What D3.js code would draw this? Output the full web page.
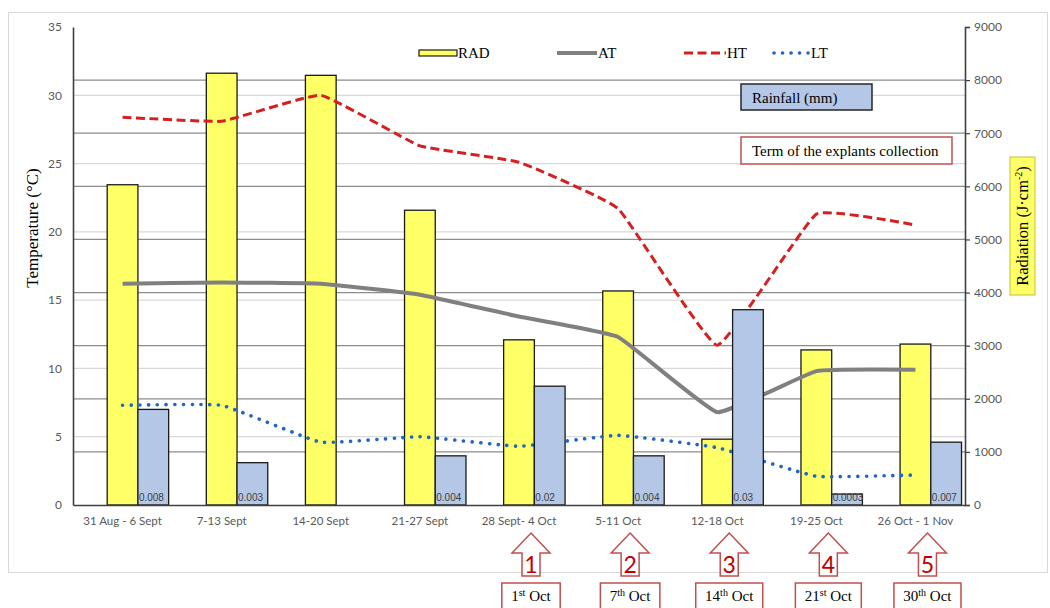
<!DOCTYPE html>
<html>
<head>
<meta charset="utf-8">
<script src="https://cdn.jsdelivr.net/npm/d3@7"></script>
<style>
  html, body { margin: 0; padding: 0; background: #ffffff; }
  svg { display: block; }
</style>
</head>
<body>
<svg id="chart" width="1050" height="608"></svg>
<script>
// Weekly weather during the explant collection period
const categories = ["31 Aug - 6 Sept", "7-13 Sept", "14-20 Sept", "21-27 Sept", "28 Sept- 4 Oct",
                    "5-11 Oct", "12-18 Oct", "19-25 Oct", "26 Oct - 1 Nov"];
const radiation = [6030, 8130, 8090, 5550, 3110, 4030, 1240, 2920, 3030];      // J·cm-2
const rainfall = [7.0, 3.1, 0, 3.6, 8.7, 3.6, 14.3, 0.8, 4.6];                // mm
const rainfallLabels = ["0.008", "0.003", "", "0.004", "0.02", "0.004", "0.03", "0.0003", "0.007"];
const meanTemp = [16.2, 16.3, 16.2, 15.4, 13.8, 12.3, 6.8, 9.8, 9.9];         // AT
const highTemp = [28.4, 28.1, 30.0, 26.3, 25.1, 21.7, 11.7, 21.3, 20.5];      // HT
const lowTemp = [7.3, 7.3, 4.6, 5.0, 4.3, 5.1, 4.2, 2.1, 2.2];                // LT

const tempTicks = [0, 5, 10, 15, 20, 25, 30, 35];
const radTicks = [0, 1000, 2000, 3000, 4000, 5000, 6000, 7000, 8000, 9000];

// Explant collection terms
const collectionWeeks = ["28 Sept- 4 Oct", "5-11 Oct", "12-18 Oct", "19-25 Oct", "26 Oct - 1 Nov"];
const collectionNumbers = ["1", "2", "3", "4", "5"];
const collectionDays = ["1", "7", "14", "21", "30"];
const collectionSuffixes = ["st", "th", "th", "st", "th"];

const SERIF = "Liberation Serif, Times New Roman, serif";
const SANS = "Lato, Liberation Sans, sans-serif";

const svg = d3.select("#chart");
const plot = { left: 73, right: 965, top: 27, bottom: 505 };

const x = d3.scaleBand().domain(categories).range([plot.left, plot.right]).paddingInner(0).paddingOuter(0);
const yT = d3.scaleLinear().domain([0, 35]).range([plot.bottom, plot.top]);
const yR = d3.scaleLinear().domain([0, 9000]).range([plot.bottom, plot.top]);
const cx = d => x(d) + x.bandwidth() / 2;
const barW = x.bandwidth() * 0.31;

// outer frame
svg.append("rect").attr("x", 8.5).attr("y", 12.5).attr("width", 1039).attr("height", 560)
  .attr("fill", "none").attr("stroke", "#d9d9d9").attr("stroke-width", 1);

// gridlines: temperature (light) and radiation (dark)
svg.append("g").selectAll("line").data(tempTicks.filter(t => t > 0 && t < 35)).join("line")
  .attr("x1", plot.left).attr("x2", plot.right)
  .attr("y1", d => yT(d)).attr("y2", d => yT(d))
  .attr("stroke", "#d9d9d9").attr("stroke-width", 1.3);
svg.append("g").selectAll("line").data(radTicks.filter(t => t > 0 && t < 9000)).join("line")
  .attr("x1", plot.left).attr("x2", plot.right)
  .attr("y1", d => yR(d)).attr("y2", d => yR(d))
  .attr("stroke", "#8c8c8c").attr("stroke-width", 1.3);

// radiation bars
svg.append("g").selectAll("rect").data(categories).join("rect")
  .attr("x", d => cx(d) - barW / 2)
  .attr("y", (d, i) => yR(radiation[i]))
  .attr("width", barW)
  .attr("height", (d, i) => yR(0) - yR(radiation[i]))
  .attr("fill", "#ffff66").attr("stroke", "#1a1a1a").attr("stroke-width", 1.3);

// temperature lines
const line = d3.line()
  .x((d, i) => cx(categories[i]))
  .y(d => yT(d))
  .curve(d3.curveCardinal.tension(0.7));

svg.append("path").datum(meanTemp).attr("d", line)
  .attr("fill", "none").attr("stroke", "#808080").attr("stroke-width", 4);
svg.append("path").datum(highTemp).attr("d", line)
  .attr("fill", "none").attr("stroke", "#d42020").attr("stroke-width", 3)
  .attr("stroke-dasharray", "9,4.5");
svg.append("path").datum(lowTemp).attr("d", line)
  .attr("fill", "none").attr("stroke", "#2266c4").attr("stroke-width", 3.6)
  .attr("stroke-linecap", "round").attr("stroke-dasharray", "0.1,8.6");

// rainfall bars
const rain = svg.append("g");
rain.selectAll("rect").data(categories.filter((d, i) => rainfall[i] > 0)).join("rect")
  .attr("x", d => cx(d) + barW / 2)
  .attr("y", d => yT(rainfall[categories.indexOf(d)]))
  .attr("width", barW)
  .attr("height", d => yT(0) - yT(rainfall[categories.indexOf(d)]))
  .attr("fill", "#b4c7e7").attr("stroke", "#1a1a1a").attr("stroke-width", 1.3);
rain.selectAll("text").data(categories.filter((d, i) => rainfallLabels[i] !== "")).join("text")
  .attr("x", d => cx(d) + barW / 2 + 1)
  .attr("y", d => yT(0) - 4)
  .attr("font-family", "Liberation Sans, Arial, sans-serif")
  .attr("font-size", 10).attr("fill", "#404040")
  .text(d => rainfallLabels[categories.indexOf(d)]);

// axes
const axisL = svg.append("g").attr("transform", `translate(${plot.left},0)`)
  .call(d3.axisLeft(yT).tickValues(tempTicks).tickSize(0).tickPadding(11));
const axisR = svg.append("g").attr("transform", `translate(${plot.right},0)`)
  .call(d3.axisRight(yR).tickValues(radTicks).tickFormat(d3.format("d")).tickSize(5).tickPadding(4));
const axisB = svg.append("g").attr("transform", `translate(0,${plot.bottom})`)
  .call(d3.axisBottom(x).tickSize(0).tickPadding(12));
[axisL, axisR, axisB].forEach(a => {
  a.select(".domain").attr("stroke", "#404040").attr("stroke-width", 1.6);
  a.selectAll(".tick line").attr("stroke", "#404040").attr("stroke-width", 1.2);
  a.selectAll("text").attr("font-family", SANS).attr("font-size", 12).attr("fill", "#595959");
});
axisB.selectAll("text").attr("font-size", 11.5);

// axis titles
svg.append("text").attr("transform", "translate(38,228) rotate(-90)")
  .attr("text-anchor", "middle").attr("font-family", SERIF).attr("font-size", 17).attr("fill", "#000")
  .text("Temperature (°C)");

svg.append("rect").attr("x", 1010).attr("y", 157).attr("width", 25).attr("height", 138)
  .attr("fill", "#ffff66").attr("stroke", "#bfbf40").attr("stroke-width", 1);
const radTitle = svg.append("text").attr("transform", "translate(1028,226) rotate(-90)")
  .attr("text-anchor", "middle").attr("font-family", SERIF).attr("font-size", 16.5).attr("fill", "#000");
radTitle.append("tspan").text("Radiation (J·cm");
radTitle.append("tspan").attr("font-size", 10).attr("dy", -6).text("-2");
radTitle.append("tspan").attr("dy", 6).text(")");

// legend
const legend = svg.append("g").attr("font-family", SERIF).attr("font-size", 15).attr("fill", "#000");
const legY = 53;
legend.append("rect").attr("x", 419).attr("y", legY - 3).attr("width", 38).attr("height", 6)
  .attr("fill", "#ffff66").attr("stroke", "#1a1a1a").attr("stroke-width", 1.2);
legend.append("text").attr("x", 458).attr("y", legY + 5).text("RAD");
legend.append("line").attr("x1", 557).attr("x2", 597).attr("y1", legY).attr("y2", legY)
  .attr("stroke", "#808080").attr("stroke-width", 4);
legend.append("text").attr("x", 598).attr("y", legY + 5).text("AT");
legend.append("line").attr("x1", 684).attr("x2", 726).attr("y1", legY).attr("y2", legY)
  .attr("stroke", "#d42020").attr("stroke-width", 3).attr("stroke-dasharray", "9,4.5");
legend.append("text").attr("x", 727).attr("y", legY + 5).text("HT");
legend.append("line").attr("x1", 774).attr("x2", 808).attr("y1", legY).attr("y2", legY)
  .attr("stroke", "#2266c4").attr("stroke-width", 3.6).attr("stroke-linecap", "round")
  .attr("stroke-dasharray", "0.1,8.4");
legend.append("text").attr("x", 811).attr("y", legY + 5).text("LT");

// notes
svg.append("rect").attr("x", 741).attr("y", 84).attr("width", 131).attr("height", 26)
  .attr("fill", "#b4c7e7").attr("stroke", "#262626").attr("stroke-width", 1.5);
svg.append("text").attr("x", 752).attr("y", 102.5).attr("font-family", SERIF).attr("font-size", 15)
  .text("Rainfall (mm)");
svg.append("rect").attr("x", 741).attr("y", 137).attr("width", 211).attr("height", 27)
  .attr("fill", "#ffffff").attr("stroke", "#c0504d").attr("stroke-width", 1.5);
svg.append("text").attr("x", 752).attr("y", 156).attr("font-family", SERIF).attr("font-size", 15)
  .text("Term of the explants collection");

// collection arrows and dates
const arrowOffset = 12;
const arrows = svg.append("g");
collectionWeeks.forEach((week, i) => {
  const ax = cx(week) + arrowOffset;
  const tip = 533, neck = 553, base = 576, head = 19, shaft = 9;
  const pts = [[ax, tip], [ax + head, neck], [ax + shaft, neck], [ax + shaft, base],
               [ax - shaft, base], [ax - shaft, neck], [ax - head, neck]];
  arrows.append("path").attr("d", d3.line()(pts) + "Z")
    .attr("fill", "#ffffff").attr("stroke", "#c0504d").attr("stroke-width", 1.5);
  arrows.append("text").attr("x", ax).attr("y", 573).attr("text-anchor", "middle")
    .attr("font-family", SANS).attr("font-size", 23).attr("fill", "#c00000")
    .text(collectionNumbers[i]);

  const label = arrows.append("text").attr("x", ax).attr("y", 601).attr("text-anchor", "middle")
    .attr("font-family", SERIF).attr("font-size", 15).attr("fill", "#000");
  label.append("tspan").text(collectionDays[i]);
  label.append("tspan").attr("font-size", 10).attr("dy", -5).text(collectionSuffixes[i]);
  label.append("tspan").attr("dy", 5).text(" Oct");
  const bb = label.node().getBBox();
  arrows.insert("rect", () => label.node())
    .attr("x", ax - bb.width / 2 - 9).attr("y", 583)
    .attr("width", bb.width + 18).attr("height", 30)
    .attr("fill", "#ffffff").attr("stroke", "#c0504d").attr("stroke-width", 1.5);
});
</script>
</body>
</html>
